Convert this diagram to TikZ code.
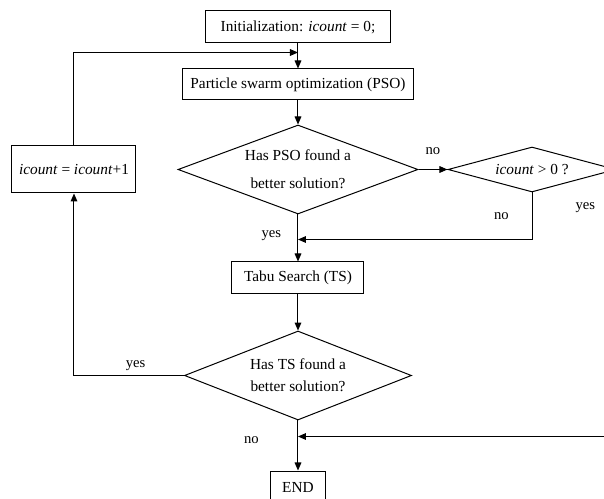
\documentclass[tikz,border=0pt]{standalone}
\usepackage{fontspec}
\setmainfont{Liberation Serif}
\usetikzlibrary{arrows.meta, positioning, shapes.geometric, calc}
\tikzset{
  box/.style={draw=black, rectangle, align=center, inner sep=2pt, minimum height=24pt, line width=0.75pt, fill=white},
  decision/.style={draw=black, diamond, align=center, inner sep=0pt, line width=0.75pt, fill=white},
  arrow/.style={-{Triangle[length=6pt,width=5pt]}, line width=0.75pt, draw=black},
  lbl/.style={font=\fontsize{11}{13}\selectfont, inner sep=1pt}
}

\begin{document}
\begin{tikzpicture}[font=\fontsize{11.5}{13.8}\selectfont]
\useasboundingbox (-223.5pt,-354pt) rectangle (229.5pt,20.25pt);
\clip (-223.5pt,-354pt) rectangle (229.5pt,20.25pt);

\node[box, minimum width=138.75pt] (init) {Initialization: \textit{icount} = 0;};
\node[box, below=18.75pt of init, minimum width=173.25pt, minimum height=23.25pt] (pso) {Particle swarm optimization (PSO)};
\node[decision, aspect=2.7, below=18pt of pso, minimum width=180pt, minimum height=66.75pt] (psodec) {Has PSO found a\\[7pt]better solution?};
\node[decision, aspect=3.73, right=21.75pt of psodec, minimum width=126pt, minimum height=33.75pt] (cnt) {\textit{icount} > 0 ?};
\node[box, left=30.75pt of psodec, minimum width=93pt, minimum height=35.25pt] (inc) {\textit{icount} = \textit{icount}+1};
\node[box, below=35.25pt of psodec, minimum width=99pt] (tabu) {Tabu Search (TS)};
\node[decision, aspect=2.55, below=27pt of tabu, minimum width=170.25pt, minimum height=66.75pt] (tsdec) {Has TS found a\\[2.7pt]better solution?};
\node[box, below=37.5pt of tsdec, minimum width=41.25pt] (finish) {END};

\coordinate[above=12pt of pso.north] (loop);
\coordinate[below=18.75pt of psodec.south] (merge);
\coordinate[below=12pt of tsdec.south] (rejoin);

\draw[arrow] (init) -- (pso);
\draw[arrow] (inc.north) |- (loop);
\draw[arrow] (pso) -- (psodec);
\draw[arrow] (psodec) -- node[lbl, above=10pt] {no} (cnt);
\draw[arrow] (cnt.south) |- node[lbl, pos=0.25, left=16pt] {no} (merge);
\draw[arrow] (psodec) -- (tabu);
\draw[arrow] (tabu) -- (tsdec);
\draw[arrow] (tsdec.west) -| node[lbl, pos=0.22, above=2.5pt] {yes} (inc.south);
\draw[arrow] (tsdec) -- node[lbl, pos=0.4, left=28pt] {no} (finish);
\draw[arrow] (cnt.east) -- ++(24pt,0) |- (rejoin);

\node[lbl, left=11.5pt of merge, yshift=3pt] (yes1) {yes};
\node[lbl] (yes2) at ($(cnt.south)+(40pt,-11pt)$) {yes};

\end{tikzpicture}
\end{document}
